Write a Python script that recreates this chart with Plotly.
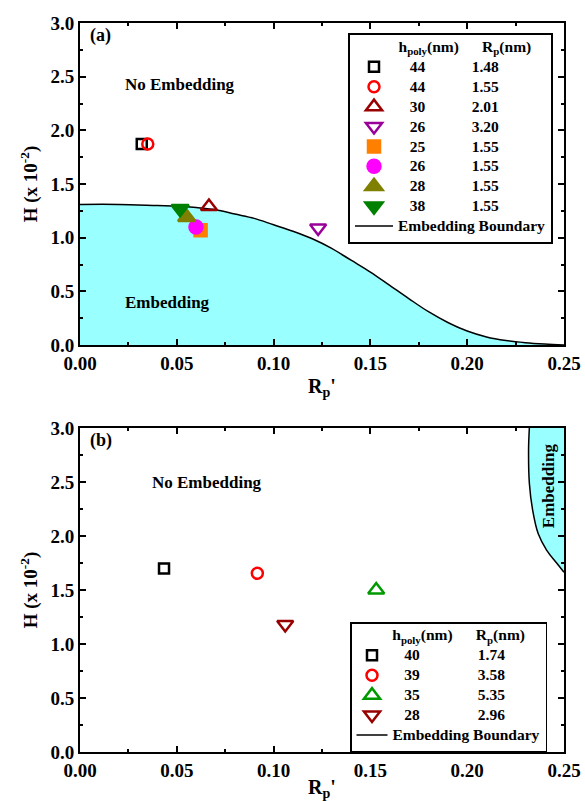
import plotly.graph_objects as go

# ---------------- data: panel (a) ----------------
a_rp = [0.0319, 0.0350, 0.0666, 0.1230, 0.0623, 0.0599, 0.0551, 0.0517]
a_H = [1.873, 1.873, 1.29, 1.09, 1.07, 1.10, 1.19, 1.27]
a_hpoly = ["44", "44", "30", "26", "25", "26", "28", "38"]
a_Rp = ["1.48", "1.55", "2.01", "3.20", "1.55", "1.55", "1.55", "1.55"]

a_bound_x = [0.00, 0.02, 0.04, 0.05, 0.06, 0.07, 0.08, 0.09, 0.10, 0.11, 0.12,
             0.13, 0.14, 0.15, 0.16, 0.17, 0.18, 0.19, 0.20, 0.21, 0.22, 0.23,
             0.24, 0.25]
a_bound_H = [1.31, 1.31, 1.30, 1.295, 1.28, 1.26, 1.22, 1.18, 1.12, 1.06, 0.99,
             0.90, 0.79, 0.68, 0.555, 0.43, 0.31, 0.21, 0.13, 0.075, 0.042, 0.022,
             0.009, 0.0]

# ---------------- data: panel (b) ----------------
b_rp = [0.0434, 0.0916, 0.1530, 0.1060]
b_H = [1.70, 1.655, 1.50, 1.18]
b_hpoly = ["40", "39", "35", "28"]
b_Rp = ["1.74", "3.58", "5.35", "2.96"]

b_bound_x = [0.2321, 0.2317, 0.2321, 0.2338, 0.2367, 0.2410, 0.2462, 0.2500]
b_bound_H = [3.00, 2.80, 2.49, 2.24, 2.02, 1.87, 1.75, 1.665]

x_range = [0.0, 0.25]
y_range = [0.0, 3.0]

# ---------------- styles ----------------
a_styles = [
    dict(symbol="square-open", color="#000000", size=10),
    dict(symbol="circle-open", color="#FF0000", size=11),
    dict(symbol="triangle-up-open", color="#990000", size=14),
    dict(symbol="triangle-down-open", color="#990099", size=14),
    dict(symbol="square", color="#FF8000", size=12),
    dict(symbol="circle", color="#FF00FF", size=13),
    dict(symbol="triangle-up", color="#808000", size=15),
    dict(symbol="triangle-down", color="#008000", size=15),
]
b_styles = [
    dict(symbol="square-open", color="#000000", size=10),
    dict(symbol="circle-open", color="#FF0000", size=11),
    dict(symbol="triangle-up-open", color="#009900", size=14),
    dict(symbol="triangle-down-open", color="#990000", size=14),
]

FONT = "Liberation Serif, Times New Roman, serif"
FILL = "#99FFFF"
NB = "\u00a0"


def big(t):
    return '<span style="font-size:15.5px">' + t + "</span>"


fig = go.Figure()

# panel (a) fill + boundary
fig.add_trace(go.Scatter(x=a_bound_x, y=a_bound_H, mode="lines", fill="tozeroy",
                         fillcolor=FILL, line=dict(width=0, color=FILL, shape="spline"),
                         showlegend=False, hoverinfo="skip", xaxis="x", yaxis="y"))
fig.add_trace(go.Scatter(x=a_bound_x, y=a_bound_H, mode="lines",
                         line=dict(color="black", width=1.5, shape="spline"),
                         name=big("Embedding Boundary"), legend="legend", legendrank=2000,
                         xaxis="x", yaxis="y"))

for i, st in enumerate(a_styles):
    fig.add_trace(go.Scatter(
        x=[a_rp[i]], y=[a_H[i]], mode="markers",
        marker=dict(symbol=st["symbol"], size=st["size"], color=st["color"],
                    line=dict(width=2.5, color=st["color"])),
        name=big(NB * 3 + a_hpoly[i] + NB * 12 + a_Rp[i]),
        legend="legend", legendrank=1000 + i, xaxis="x", yaxis="y"))

# panel (b) fill + boundary
fig.add_trace(go.Scatter(x=b_bound_x + [x_range[1]], y=b_bound_H + [y_range[1]],
                         mode="lines", fill="toself", fillcolor=FILL,
                         line=dict(width=0, color=FILL, shape="spline"), showlegend=False,
                         hoverinfo="skip", xaxis="x2", yaxis="y2"))
fig.add_trace(go.Scatter(x=b_bound_x, y=b_bound_H, mode="lines",
                         line=dict(color="black", width=1.5, shape="spline"),
                         name=big("Embedding Boundary"), legend="legend2", legendrank=2000,
                         xaxis="x2", yaxis="y2"))
for i, st in enumerate(b_styles):
    fig.add_trace(go.Scatter(
        x=[b_rp[i]], y=[b_H[i]], mode="markers",
        marker=dict(symbol=st["symbol"], size=st["size"], color=st["color"],
                    line=dict(width=2.5, color=st["color"])),
        name=big(NB * 3 + b_hpoly[i] + NB * 15 + b_Rp[i]),
        legend="legend2", legendrank=1000 + i, xaxis="x2", yaxis="y2"))

axis_common = dict(showline=True, linecolor="black", linewidth=2, mirror="allticks",
                   ticks="inside", ticklen=6, tickwidth=2, tickcolor="black",
                   showgrid=False, zeroline=False, automargin=False,
                   tickfont=dict(family=FONT, size=19, color="black", weight="bold"))

xa = dict(axis_common, range=x_range, dtick=0.05, tickformat=".2f",
          minor=dict(ticks="inside", dtick=0.025, ticklen=3, tickwidth=2, tickcolor="black"),
          title=dict(text="R<sub>p</sub>'", font=dict(family=FONT, size=20, color="black", weight="bold"),
                     standoff=6))
ya = dict(axis_common, range=y_range, dtick=0.5, tickformat=".1f",
          minor=dict(ticks="inside", dtick=0.25, ticklen=3, tickwidth=2, tickcolor="black"),
          title=dict(text="H (x 10<sup>-2</sup>)", font=dict(family=FONT, size=19, color="black", weight="bold"),
                     standoff=8))

H_TOTAL = 729.0
dom_a = [(752 - 345) / H_TOTAL, 1.0]
dom_b = [0.0, (752 - 428) / H_TOTAL]

legend_font = dict(family=FONT, size=13, color="black", weight="bold")

fig.update_layout(
    width=585, height=801, autosize=False,
    margin=dict(l=80, r=21, t=23, b=49, autoexpand=False),
    paper_bgcolor="white", plot_bgcolor="white",
    font=dict(family=FONT, color="black", weight="bold"),
    xaxis=dict(xa, anchor="y", domain=[0, 1]),
    yaxis=dict(ya, anchor="x", domain=dom_a),
    xaxis2=dict(xa, anchor="y2", domain=[0, 1]),
    yaxis2=dict(ya, anchor="x2", domain=dom_b),
    legend=dict(x=(348 - 80) / 484, y=(752 - 33) / H_TOTAL, xanchor="left", yanchor="top",
                bgcolor="white", bordercolor="black", borderwidth=2,
                font=legend_font, itemwidth=38, tracegroupgap=0,
                title=dict(text=big(NB * 12 + "h<sub>poly</sub>(nm)" + NB * 6 + "R<sub>p</sub>(nm)"),
                           font=legend_font, side="top")),
    legend2=dict(x=(350 - 80) / 484, y=(752 - 622) / H_TOTAL, xanchor="left", yanchor="top",
                 bgcolor="white", bordercolor="black", borderwidth=1.5,
                 font=legend_font, itemwidth=31, tracegroupgap=0,
                 title=dict(text=big(NB * 10 + "h<sub>poly</sub>(nm)" + NB * 6 + "R<sub>p</sub>(nm)"),
                            font=legend_font, side="top")),
    showlegend=True,
)

ann_font = dict(family=FONT, size=17, color="black", weight="bold")
fig.add_annotation(x=0.0517, y=2.43, xref="x", yref="y", text="No Embedding",
                   showarrow=False, font=ann_font)
fig.add_annotation(x=0.045, y=0.40, xref="x", yref="y", text="Embedding",
                   showarrow=False, font=ann_font)
fig.add_annotation(x=0.0656, y=2.50, xref="x2", yref="y2", text="No Embedding",
                   showarrow=False, font=ann_font)
fig.add_annotation(x=0.2417, y=2.47, xref="x2", yref="y2", text="Embedding",
                   showarrow=False, textangle=-90, font=ann_font)
fig.add_annotation(x=0.016, y=1.0, xref="x domain", yref="y domain", text="(a)",
                   xanchor="left", yanchor="top", showarrow=False,
                   font=dict(family=FONT, size=18, color="black", weight="bold"))
fig.add_annotation(x=0.016, y=1.0, xref="x2 domain", yref="y2 domain", text="(b)",
                   xanchor="left", yanchor="top", showarrow=False,
                   font=dict(family=FONT, size=18, color="black", weight="bold"))

fig.write_html("out.html", config={"displayModeBar": False},
               post_script="document.body.style.margin='0';")
